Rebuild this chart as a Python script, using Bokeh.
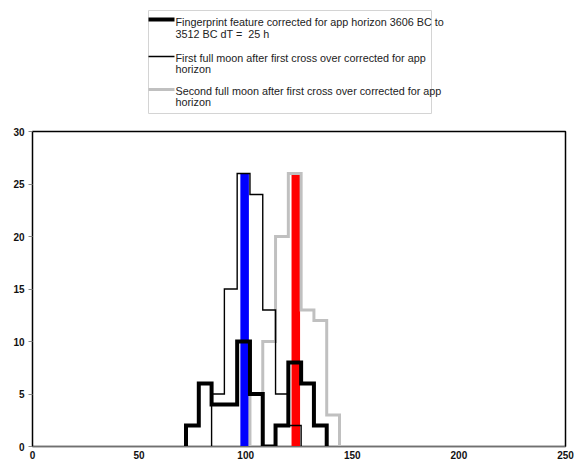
import numpy as np
from bokeh.plotting import figure
from bokeh.layouts import column
from bokeh.models import Range1d, FixedTicker
from bokeh.embed import file_html
from bokeh.resources import INLINE
from bokeh.core.properties import value

# ---- data ----
bin_width = 6
fingerprint_start = 72
fingerprint = [2, 6, 4, 4, 10, 5, 0, 2, 8, 6, 2]
moon1_start = 84
moon1 = [5, 15, 26, 24, 13, 5, 2]
moon2_start = 102
moon2 = [5, 10, 20, 26, 13, 12, 3]
marker_x = [99.5, 123.5]
marker_top = [26, 26]
marker_colors = ["#0000ff", "#ff0000"]
x_ticks = [0, 50, 100, 150, 200, 250]
y_ticks = [0, 5, 10, 15, 20, 25, 30]
legend_lines = [
    ["Fingerprint feature corrected for app horizon 3606 BC to", "3512 BC dT = \u00a025 h"],
    ["First full moon after first cross over corrected for app", "horizon"],
    ["Second full moon after first cross over corrected for app", "horizon"],
]
series_colors = ["#000000", "#000000", "#c0c0c0"]
series_widths = [4, 1.4, 3]

FONT = "Liberation Sans"

def step_xy(start, vals):
    vals = np.asarray(vals, dtype=float)
    edges = start + bin_width * np.arange(len(vals) + 1)
    xs = np.r_[edges[0], edges]
    ys = np.r_[0.0, vals, 0.0]
    return xs, ys

W = 574
LH = 120
MH = 344
FL, FR = 32, 565   # frame left/right in page px

# ---- legend figure (frame aligned with main frame by column layout) ----
leg = figure(width=W, height=LH, output_backend="svg", toolbar_location=None,
             x_range=Range1d(FL, FR), y_range=Range1d(LH, 0),
             min_border_top=0, min_border_bottom=0,
             min_border_left=FL, min_border_right=W - FR,
             outline_line_color=None)
leg.axis.visible = False
leg.grid.visible = False
leg.quad(left=[148], right=[431], top=[10], bottom=[113], fill_color=None,
         line_color="#d4d4d4", line_width=1)
sample_y = [19, 56, 89]
text_y = [[21.5, 33.5], [57, 68], [90, 101]]
for i in range(3):
    leg.line([148, 174], [sample_y[i], sample_y[i]], line_color=series_colors[i],
             line_width=series_widths[i])
    for j, t in enumerate(legend_lines[i]):
        leg.text(x=[175], y=[text_y[i][j]], text=[t], text_font=value(FONT),
                 text_font_size="10.8px", text_baseline="middle", text_align="left",
                 text_color="#222222")

# ---- main figure ----
p = figure(width=W, height=MH, output_backend="svg", toolbar_location=None,
           x_range=Range1d(0, 250), y_range=Range1d(0, 30),
           min_border_left=FL, min_border_right=W - FR,
           min_border_top=131 - LH, min_border_bottom=LH + MH - 446)
p.grid.visible = False
p.outline_line_color = "#000000"
p.outline_line_width = 1.5

p.vbar(x=marker_x, top=marker_top, bottom=0, width=4, fill_color=marker_colors,
       line_color=None)

for (start, vals, c, w) in [(moon2_start, moon2, series_colors[2], series_widths[2]),
                            (moon1_start, moon1, series_colors[1], series_widths[1]),
                            (fingerprint_start, fingerprint, series_colors[0], series_widths[0])]:
    xs, ys = step_xy(start, vals)
    p.step(xs, ys, mode="after", line_color=c, line_width=w, line_join="miter")

p.xaxis.ticker = FixedTicker(ticks=x_ticks)
p.yaxis.ticker = FixedTicker(ticks=y_ticks)
for ax in (p.xaxis[0], p.yaxis[0]):
    ax.minor_tick_line_color = None
    ax.major_label_text_font = FONT
    ax.major_label_text_font_size = "10px"
    ax.major_label_text_font_style = "bold"
    ax.major_label_text_color = "#111111"
    ax.major_tick_in = 0
    ax.major_label_standoff = 4
p.xaxis.major_tick_out = 0
p.yaxis.major_tick_out = 4
p.yaxis.major_tick_line_color = "#888888"
p.xaxis.axis_line_color = "#707070"
p.yaxis.axis_line_color = "#000000"

layout = column(leg, p, spacing=0)
open("out.html", "w").write(file_html(layout, INLINE))
